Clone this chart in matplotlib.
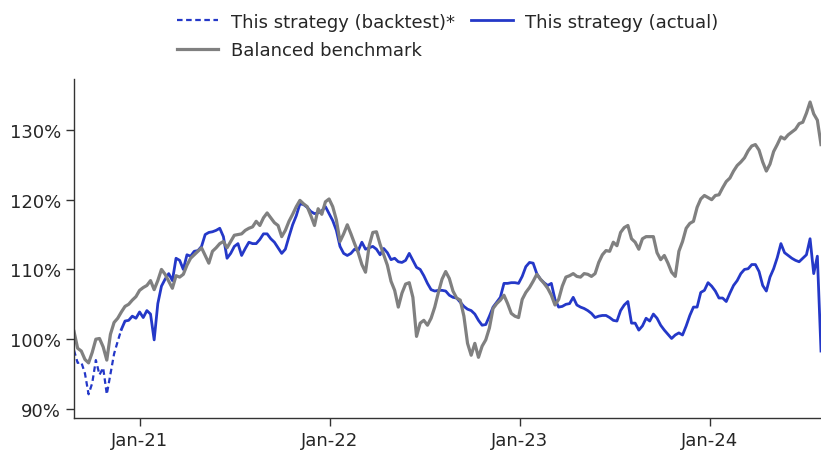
import pandas as pd
import matplotlib.pyplot as plt
import matplotlib.dates as mdates
from matplotlib.ticker import FuncFormatter

# weekly index values (%), start of series = 2020-08-28
benchmark = [
    101.1, 98.7, 98.3, 97.1, 96.6, 98.1, 100.0, 100.1, 98.9, 97.0,
    100.7, 102.4, 103.0, 103.9, 104.7, 105.0, 105.6, 106.1, 107.0, 107.4,
    107.7, 108.4, 107.1, 108.4, 110.0, 109.3, 108.3, 107.3, 109.1, 108.9,
    109.3, 110.6, 111.6, 112.1, 112.6, 113.1, 112.0, 110.9, 112.6, 113.1,
    113.7, 114.0, 113.1, 114.0, 114.9, 115.0, 115.1, 115.6, 115.9, 116.1,
    116.9, 116.3, 117.4, 118.1, 117.4, 116.7, 116.3, 114.7, 115.6, 116.9,
    117.9, 119.0, 119.9, 119.4, 119.0, 117.7, 116.3, 118.7, 117.9, 119.7,
    120.1, 119.0, 117.1, 114.0, 115.1, 116.4, 115.1, 113.7, 112.4, 110.7,
    109.6, 113.4, 115.3, 115.4, 113.6, 112.1, 110.6, 108.3, 107.0, 104.6,
    106.6, 107.9, 108.1, 106.0, 100.4, 102.3, 102.7, 102.0, 103.0, 104.6,
    106.7, 108.6, 109.7, 108.7, 106.9, 105.9, 105.6, 103.3, 99.4, 97.7,
    99.4, 97.4, 99.0, 99.9, 101.6, 104.4, 105.1, 105.6, 106.3, 105.1,
    103.7, 103.3, 103.1, 105.7, 106.7, 107.4, 108.3, 109.3, 108.6, 108.0,
    107.3, 106.3, 104.9, 105.7, 107.6, 108.9, 109.1, 109.4, 109.0, 108.9,
    109.4, 109.3, 109.0, 109.4, 111.0, 112.1, 112.7, 112.6, 113.9, 113.4,
    115.3, 116.0, 116.3, 114.4, 113.9, 112.9, 114.4, 114.7, 114.7, 114.7,
    112.4, 111.4, 112.0, 110.9, 109.6, 109.0, 112.6, 114.0, 115.9, 116.6,
    116.9, 118.9, 120.1, 120.6, 120.3, 120.0, 120.6, 120.7, 121.7, 122.6,
    123.1, 124.1, 124.9, 125.4, 126.0, 127.0, 127.7, 127.9, 127.1, 125.4,
    124.1, 125.1, 126.9, 127.9, 129.0, 128.7, 129.3, 129.7, 130.1, 130.9,
    131.1, 132.4, 134.0, 132.3, 131.4, 127.9,
]

strategy = [
    98.4, 96.6, 96.7, 95.1, 92.1, 93.7, 97.0, 94.9, 95.9, 92.1,
    95.0, 97.9, 99.7, 101.4, 102.6, 102.7, 103.3, 103.0, 103.9, 103.1,
    104.1, 103.6, 99.9, 105.1, 107.6, 108.6, 109.4, 108.4, 111.6, 111.3,
    110.0, 112.1, 111.9, 112.6, 112.7, 113.3, 115.0, 115.3, 115.4, 115.6,
    115.9, 114.7, 111.6, 112.3, 113.3, 113.7, 112.0, 113.0, 113.9, 113.7,
    113.7, 114.3, 115.1, 115.1, 114.4, 113.9, 113.1, 112.3, 112.9, 114.7,
    116.4, 117.7, 119.4, 119.3, 118.9, 118.3, 118.0, 118.1, 118.4, 119.0,
    118.0, 117.0, 115.6, 113.3, 112.3, 112.0, 112.3, 112.9, 112.7, 113.9,
    112.9, 113.1, 113.3, 112.9, 112.1, 113.0, 112.4, 111.4, 111.6, 111.1,
    111.0, 111.3, 112.3, 111.3, 110.3, 110.0, 109.1, 108.0, 107.1, 106.9,
    107.0, 107.0, 106.9, 106.3, 106.0, 105.9, 105.3, 104.7, 104.3, 104.1,
    103.6, 102.7, 102.0, 102.1, 103.3, 104.6, 105.3, 106.0, 108.0, 108.0,
    108.1, 108.1, 108.0, 109.0, 110.4, 111.0, 110.9, 109.4, 108.6, 108.1,
    107.7, 108.0, 105.7, 104.6, 104.7, 105.0, 105.1, 106.0, 104.9, 104.6,
    104.4, 104.1, 103.7, 103.1, 103.3, 103.4, 103.4, 103.1, 102.7, 102.6,
    104.1, 104.9, 105.4, 102.3, 102.3, 101.3, 101.9, 103.0, 102.6, 103.6,
    103.0, 102.0, 101.3, 100.7, 100.1, 100.6, 100.9, 100.6, 101.9, 103.4,
    104.6, 104.6, 106.7, 107.0, 108.1, 107.6, 106.9, 105.9, 105.9, 105.4,
    106.6, 107.7, 108.4, 109.4, 110.0, 110.1, 110.7, 110.7, 109.7, 107.7,
    106.9, 108.9, 110.1, 111.7, 113.7, 112.4, 112.0, 111.6, 111.3, 111.1,
    111.6, 112.1, 114.4, 109.4, 111.9, 98.3,
]

live_start = pd.Timestamp('2020-11-27')
yticks = [90, 100, 110, 120, 130]

dates = pd.date_range('2020-08-28', periods=len(benchmark), freq='7D')
df = pd.DataFrame({'benchmark': benchmark, 'strategy': strategy[:len(benchmark)]}, index=dates)
backtest = df.loc[df.index <= live_start, 'strategy']
actual = df.loc[df.index >= live_start, 'strategy']

blue = '#2438c8'
grey = '#808080'
txt = '#262626'

plt.rcParams['font.size'] = 13
plt.rcParams['text.color'] = txt
plt.rcParams['xtick.color'] = txt
plt.rcParams['ytick.color'] = txt

fig = plt.figure(figsize=(8.21, 4.52), dpi=100)
ax = fig.add_axes([74 / 821, 33 / 452, 747 / 821, 339 / 452])

l1, = ax.plot(backtest.index, backtest.values, color=blue, lw=1.6, ls=(0, (2.5, 1.6)),
              label='This strategy (backtest)*')
l2, = ax.plot(actual.index, actual.values, color=blue, lw=2.0, label='This strategy (actual)')
l3, = ax.plot(df.index, df['benchmark'], color=grey, lw=2.3, label='Balanced benchmark')

ax.set_xlim(dates[0], dates[-1])
ax.set_ylim(88.7, 137.3)
ax.set_yticks(yticks)
ax.yaxis.set_major_formatter(FuncFormatter(lambda v, p: f'{v:.0f}%'))
ax.xaxis.set_major_locator(mdates.YearLocator())
ax.xaxis.set_major_formatter(mdates.DateFormatter('%b-%y'))

for s in ['top', 'right']:
    ax.spines[s].set_visible(False)
for s in ['left', 'bottom']:
    ax.spines[s].set_color('#333333')
    ax.spines[s].set_linewidth(1.0)
ax.tick_params(length=6, width=1, color='#333333', labelsize=13)

# legend sits above the plot area, two columns
ax.legend(handles=[l1, l3, l2], ncol=2, frameon=False, loc='lower center',
          bbox_to_anchor=(0.5, 1.01), handlelength=2.3, handletextpad=0.7,
          columnspacing=0.9, labelspacing=0.6)

fig.savefig('out.png', dpi=100)
